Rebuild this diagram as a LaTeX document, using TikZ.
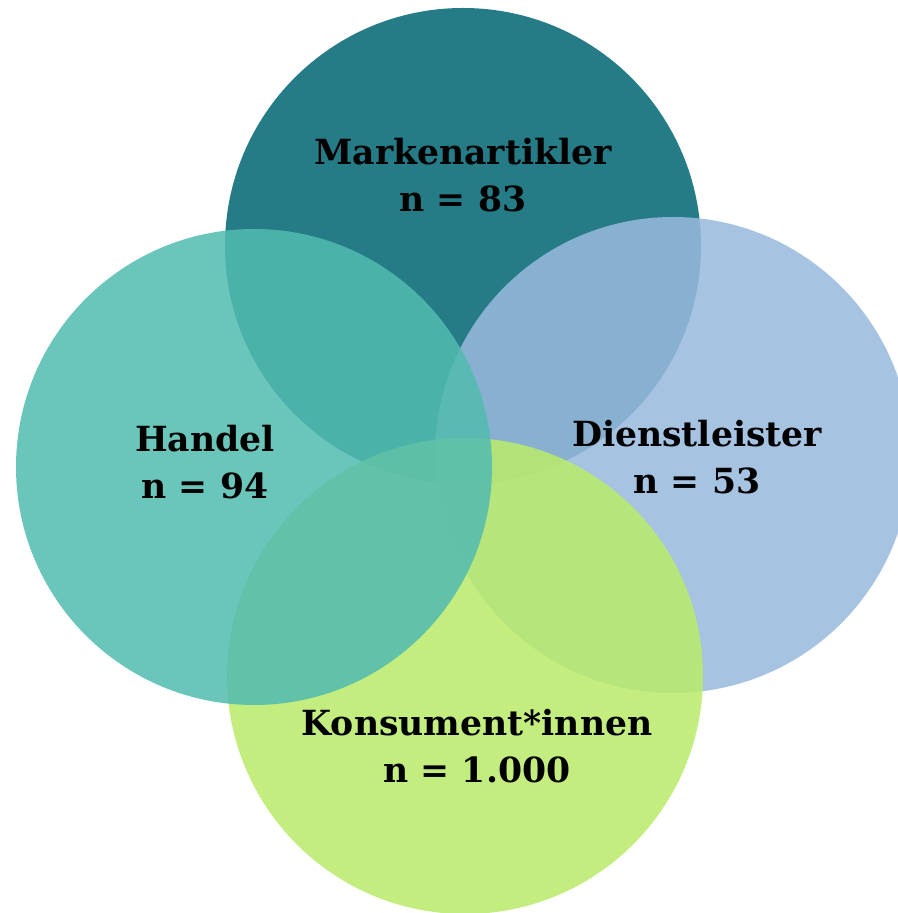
\documentclass[tikz,border=0pt]{standalone}
\usepackage{fontspec}
\setmainfont{DejaVu Serif}
\usepackage{tikz}
\usetikzlibrary{positioning}
\definecolor{markc}{HTML}{257B86}
\definecolor{handc}{HTML}{52BCB0}
\definecolor{dienc}{HTML}{99B9DD}
\definecolor{konsc}{HTML}{B9EB6A}
\tikzset{
  venn/.style={circle,minimum size=9.52cm,inner sep=0pt,fill opacity=0.86},
  lbl/.style={font=\fontsize{19.7}{26.5}\selectfont\bfseries,align=center,text=black},
}

\begin{document}
\begin{tikzpicture}
  \clip (0,0) rectangle (17.96,18.26);
  % circles
  \node[venn,fill=markc,fill opacity=1] (mark) at (9.26,13.34) {};
  \node[venn,fill=dienc] (dien) at (13.46,9.16) {};
  \node[venn,fill=konsc] (kons) at (9.30,4.74) {};
  \node[venn,fill=handc] (hand) at (5.08,8.92) {};
  % labels
  \node[lbl] (markl) at (9.26,14.76) {Markenartikler\\n = 83};
  \node[lbl] (handl) at (4.10,9.02) {Handel\\n = 94};
  \node[lbl] (dienl) at (13.94,9.12) {Dienstleister\\n = 53};
  \node[lbl] (konsl) at (9.54,3.34) {Konsument*innen\\n = 1.000};
\end{tikzpicture}
\end{document}
